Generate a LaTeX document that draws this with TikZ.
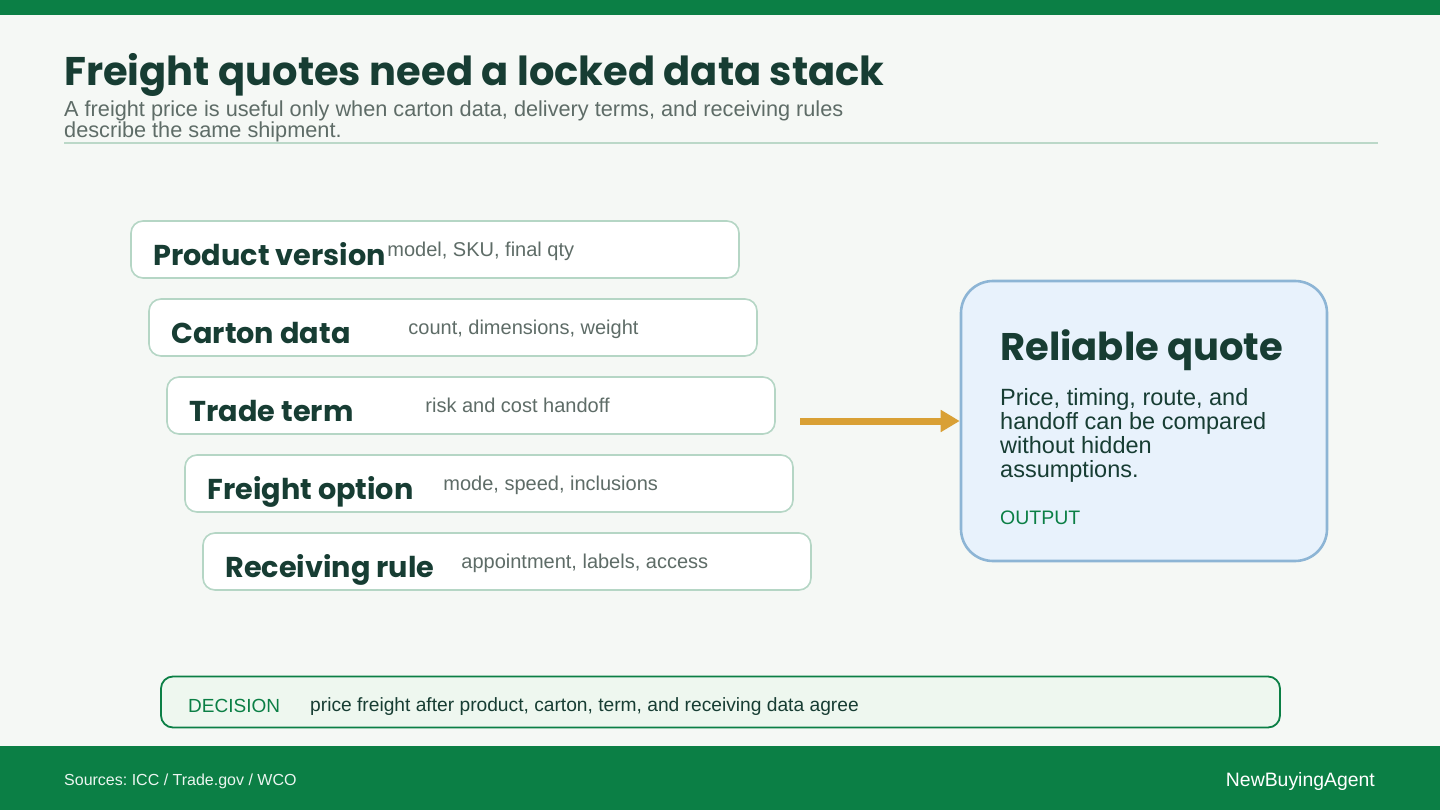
\documentclass[tikz,border=0pt]{standalone}
\usepackage{fontspec}
\setmainfont{Liberation Sans}
\newfontfamily\poppins{Poppins}
\usetikzlibrary{arrows.meta,positioning}
\frenchspacing

\definecolor{brandgreen}{HTML}{0B7F45}
\definecolor{pagebg}{HTML}{F5F8F5}
\definecolor{inkgreen}{HTML}{173D33}
\definecolor{subgray}{HTML}{5E6C67}
\definecolor{rulegreen}{HTML}{BBD8C8}
\definecolor{stackedge}{HTML}{B5D6C5}
\definecolor{quotefill}{HTML}{E8F2FC}
\definecolor{quoteedge}{HTML}{8DB5D5}
\definecolor{amber}{HTML}{D9A035}
\definecolor{decisionfill}{HTML}{EEF7EF}

\newcommand{\fsize}[1]{\fontsize{#1}{#1}\selectfont}

\tikzset{
  stackbox/.style={draw=stackedge,line width=1.6pt,fill=white,rounded corners=12pt,
    minimum width=608pt,minimum height=57pt,inner sep=0pt},
  stacklabel/.style={anchor=base west,inner sep=0pt,text=inkgreen,font=\poppins\bfseries\fsize{28.7}},
  stackdesc/.style={anchor=base west,inner sep=0pt,text=subgray,font=\fsize{20}},
}

\begin{document}
\begin{tikzpicture}[x=1pt,y=-1pt]
% page, header and footer bands
\fill[pagebg] (0,0) rectangle (1440,810);
\fill[brandgreen] (0,0) rectangle (1440,15);
\fill[brandgreen] (0,746) rectangle (1440,810);
\useasboundingbox (0,0) rectangle (1440,810);

% heading
\node[anchor=base west,inner sep=0pt,text=inkgreen,font=\poppins\bfseries\fsize{40}] (title) at (64,86) {Freight quotes need a locked data stack};
\node[anchor=base west,inner sep=0pt,text=subgray,font=\fsize{21.7}] (sub1) at (64,117) {A freight price is useful only when carton data, delivery terms, and receiving rules};
\node[anchor=base west,inner sep=0pt,text=subgray,font=\fsize{21.7}] (sub2) at (64,138) {describe the same shipment.};
\draw[rulegreen,line width=1.5pt] (64,143) -- (1378,143);

% the data stack
\node[stackbox] (prod) at (435,249.5) {};
\node[stacklabel] (prodL) at ([shift={(23,45)}]prod.north west) {Product version};
\node[stackdesc] at ([shift={(257,36)}]prod.north west) {model, SKU, final qty};

\node[stackbox] (carton) at (453,327.5) {};
\node[stacklabel] (cartonL) at ([shift={(23,45)}]carton.north west) {Carton data};
\node[stackdesc] at ([shift={(260,36)}]carton.north west) {count, dimensions, weight};

\node[stackbox] (term) at (471,405.5) {};
\node[stacklabel] (termL) at ([shift={(23,45)}]term.north west) {Trade term};
\node[stackdesc] at ([shift={(259,36)}]term.north west) {risk and cost handoff};

\node[stackbox] (freight) at (489,483.5) {};
\node[stacklabel] (freightL) at ([shift={(23,45)}]freight.north west) {Freight option};
\node[stackdesc] at ([shift={(259,36)}]freight.north west) {mode, speed, inclusions};

\node[stackbox] (recv) at (507,561.5) {};
\node[stacklabel] (recvL) at ([shift={(23,45)}]recv.north west) {Receiving rule};
\node[stackdesc] at ([shift={(259,36)}]recv.north west) {appointment, labels, access};

% output card
\node[draw=quoteedge,line width=2.6pt,fill=quotefill,rounded corners=32pt,
  minimum width=366pt,minimum height=280pt,inner sep=0pt] (quote) at (1144,421) {};
\node[anchor=base west,inner sep=0pt,text=inkgreen,font=\poppins\bfseries\fsize{38.5}] (quoteT) at (1000,360) {Reliable quote};
\node[anchor=north west,inner sep=0pt,text=inkgreen,align=left,font=\fontsize{23.5}{24}\selectfont] (quoteB) at (1000,388.5)
  {Price, timing, route, and\\handoff can be compared\\without hidden\\assumptions.};
\node[anchor=base west,inner sep=0pt,text=brandgreen,font=\fsize{19.5}] (quoteO) at (1000,524) {OUTPUT};

\coordinate (feed) at (800,421);
\draw[amber,line width=7pt,-{Triangle[length=19pt,width=21pt]}] (feed) -- (quote.west);

% decision strip
\node[draw=brandgreen,line width=1.8pt,fill=decisionfill,rounded corners=12pt,
  minimum width=1119pt,minimum height=51pt,inner sep=0pt] (decision) at (720.5,702) {};
\node[anchor=base west,inner sep=0pt,text=brandgreen,font=\fsize{19}] (decisionK) at (188,712) {DECISION};
\node[anchor=base west,inner sep=0pt,text=inkgreen,font=\fsize{19.2}] (decisionT) at (310,711) {price freight after product, carton, term, and receiving data agree};

% footer
\node[anchor=base west,inner sep=0pt,text=white!92!brandgreen,font=\fsize{16}] (sources) at (64,785) {Sources: ICC / Trade.gov / WCO};
\node[anchor=base east,inner sep=0pt,text=white,font=\fsize{19.4}] (brand) at (1375,786) {NewBuyingAgent};
\end{tikzpicture}
\end{document}
